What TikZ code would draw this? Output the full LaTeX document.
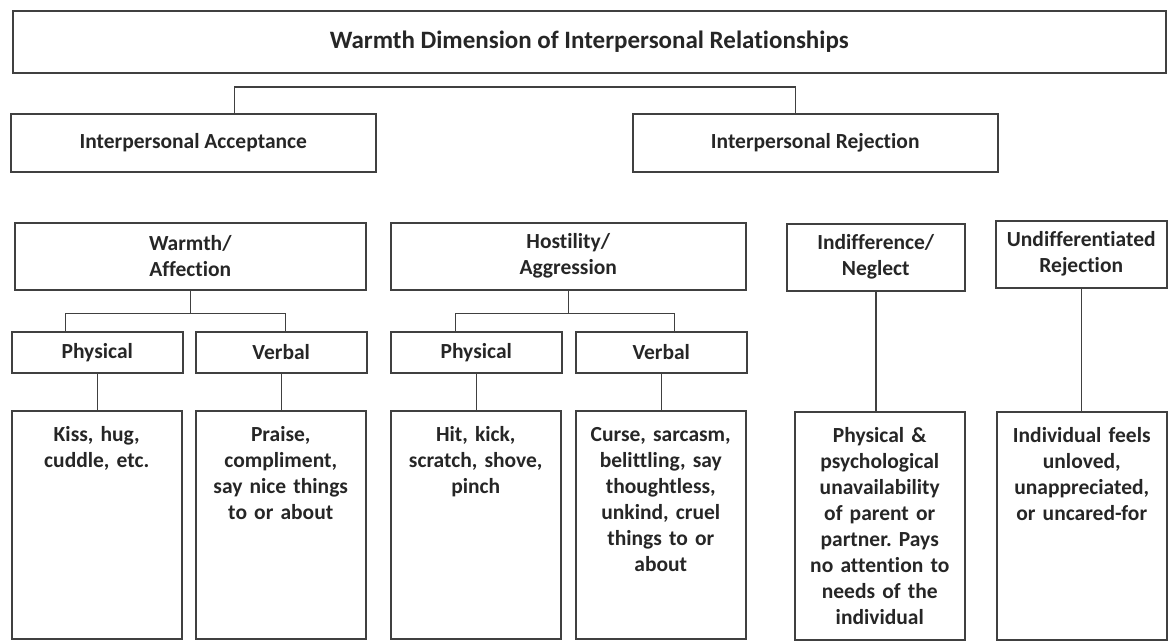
\documentclass[tikz,border=0pt]{standalone}
\usepackage{fontspec}
\setmainfont{Carlito}[Ligatures=NoCommon]
\usetikzlibrary{positioning}
\frenchspacing

\begin{document}
\begin{tikzpicture}[
  x=1pt, y=-1pt,
  font=\bfseries\fontsize{21.5}{26}\selectfont,
  box/.style={draw=black!75, rectangle, align=center, line width=1.5pt, inner sep=0pt, anchor=north west, text=black!85},
  head/.style={box, minimum width=1153pt, minimum height=62pt, font=\bfseries\fontsize{25}{30}\selectfont},
  branch/.style={box, minimum width=365pt, minimum height=58pt},
  kind/.style={box, minimum height=67pt},
  mode/.style={box, minimum width=171pt, minimum height=41pt},
  leaf/.style={box, minimum width=170pt, text width=164pt, text height=31pt, text depth=197pt},
  link/.style={draw=black!75, line width=1.5pt}
]
\useasboundingbox (0,0) rectangle (1168,641);

\node[head] (title) at (12,10) {Warmth Dimension of Interpersonal Relationships};

\node[branch] (accept) at (10,113) {Interpersonal Acceptance};
\node[branch] (reject) at (632,113) {Interpersonal Rejection};

\node[kind, minimum width=351pt] (warmth) at (14,222) {Warmth/\\Affection};
\node[kind, minimum width=355pt] (hostil) at (390,222) {Hostility/\\Aggression};
\node[kind, minimum width=178pt] (indiff) at (786,223) {Indifference/\\Neglect};
\node[kind, minimum width=171pt] (undiff) at (995,220) {Undifferentiated\\Rejection};

\node[mode] (physA) at (11,331) {Physical};
\node[mode] (verbA) at (195,331) {Verbal};
\node[mode] (physB) at (390,331) {Physical};
\node[mode] (verbB) at (575,331) {Verbal};

\node[leaf] (kiss) at (11,410) {Kiss, hug,\\cuddle, etc.};
\node[leaf] (praise) at (195,410) {Praise,\\compliment,\\say nice things\\to or about};
\node[leaf] (hit) at (390,410) {Hit, kick,\\scratch, shove,\\pinch};
\node[leaf] (curse) at (575,410) {Curse, sarcasm,\\belittling, say\\thoughtless,\\unkind, cruel\\things to or\\about};
\node[leaf] (absent) at (794,411) {Physical \&\\psychological\\unavailability\\of parent or\\partner. Pays\\no attention to\\needs of the\\individual};
\node[leaf] (unloved) at (996,411) {Individual feels\\unloved,\\unappreciated,\\or uncared-for};

% brackets
\draw[link] ([xshift=41pt]accept.north) -- ++(0,-26) -| ([xshift=-20pt]reject.north);
\draw[link] (warmth.south) -- ++(0,23) -| ([xshift=-32pt]physA.north);
\draw[link] (warmth.south) -- ++(0,23) -| ([xshift=4pt]verbA.north);
\draw[link] (hostil.south) -- ++(0,23) -| ([xshift=-21pt]physB.north);
\draw[link] (hostil.south) -- ++(0,23) -| ([xshift=13pt]verbB.north);

% down to the examples
\foreach \a/\b in {physA/kiss, verbA/praise, physB/hit, verbB/curse, indiff/absent, undiff/unloved}
  \draw[link] (\a.south) -- (\a.south |- \b.north);
\end{tikzpicture}
\end{document}
